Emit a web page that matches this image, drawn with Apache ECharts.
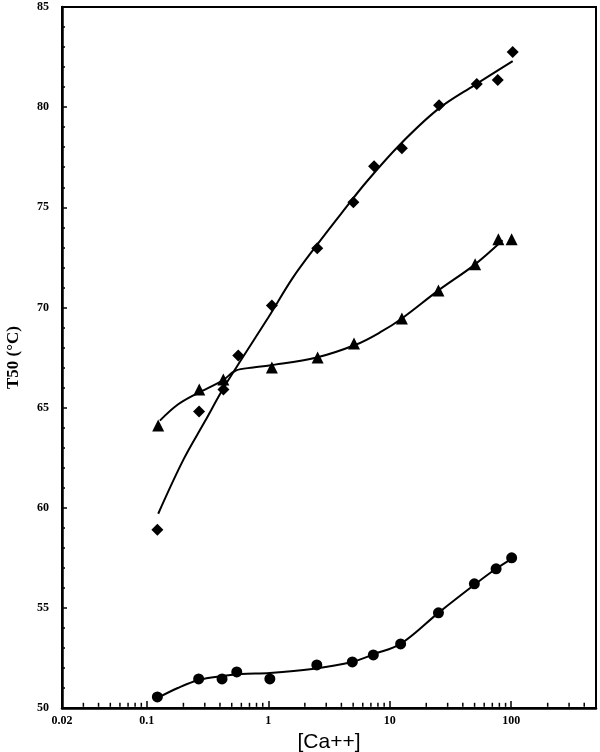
<!DOCTYPE html>
<html>
<head>
<meta charset="utf-8">
<script src="https://cdn.jsdelivr.net/npm/echarts@6/dist/echarts.min.js"></script>
<style>html,body{margin:0;padding:0;background:#fff}#c{width:600px;height:752px}</style>
</head>
<body>
<div id="c"></div>
<script>
// ---- data ----
const xTickLabels = ['0.02', '0.1', '1', '10', '100'];
const xMinorTicks = [0.03,0.04,0.05,0.06,0.07,0.08,0.09,
                     0.2,0.3,0.4,0.5,0.6,0.7,0.8,0.9,
                     2,3,4,5,6,7,8,9,
                     20,30,40,50,60,70,80,90,
                     200,300,400];

const diamondX = [0.122, 0.269, 0.427, 0.566, 1.07, 2.53, 5.02, 7.43, 12.6, 25.5, 52.1, 77.6, 103];
const diamondY = [58.9, 64.8, 65.9, 67.6, 70.1, 72.95, 75.25, 77.05, 77.95, 80.1, 81.15, 81.35, 82.75];

const triX = [0.124, 0.270, 0.426, 1.07, 2.55, 5.08, 12.6, 25.2, 50.5, 78.5, 101];
const triY = [64.1, 65.9, 66.4, 67.0, 67.5, 68.2, 69.45, 70.85, 72.15, 73.4, 73.4];

const circX = [0.122, 0.267, 0.416, 0.55, 1.03, 2.51, 4.92, 7.33, 12.3, 25.2, 49.8, 75.2, 101];
const circY = [50.55, 51.45, 51.45, 51.8, 51.45, 52.15, 52.3, 52.65, 53.2, 54.75, 56.2, 56.95, 57.5];

const diamondCurveX = [0.124, 0.2, 0.3, 0.43, 0.6, 1.0, 1.6, 2.5, 4.0, 6.5, 12, 25, 50, 103];
const diamondCurveY = [59.7, 62.4, 64.3, 66.0, 67.4, 69.5, 71.5, 73.1, 74.7, 76.3, 78.1, 79.9, 81.1, 82.3];

const triCurveX = [0.128, 0.18, 0.258, 0.42, 0.54, 0.75, 1.02, 2.5, 5.3, 8.3, 12.6, 25.2, 50.5, 85];
const triCurveY = [64.35, 65.15, 65.7, 66.35, 66.85, 67.0, 67.1, 67.5, 68.15, 68.75, 69.45, 70.85, 72.15, 73.35];

const circCurveX = [0.122, 0.18, 0.267, 0.42, 0.6, 1.03, 2.3, 4.92, 7.5, 12.3, 25.2, 49.8, 75, 101];
const circCurveY = [50.5, 51.0, 51.4, 51.6, 51.7, 51.75, 51.95, 52.3, 52.7, 53.2, 54.75, 56.15, 56.95, 57.45];

const zip = (xs, ys) => xs.map((x, i) => [x, ys[i]]);

const serif = 'Liberation Serif';
const chart = echarts.init(document.getElementById('c'));

function curve(xs, ys) {
  return {
    type: 'line', data: zip(xs, ys), smooth: 0.35,
    showSymbol: false, symbol: 'none', silent: true,
    lineStyle: { color: '#000', width: 2, opacity: 1 }, z: 2
  };
}
function points(xs, ys, symbol, size) {
  return {
    type: 'scatter', data: zip(xs, ys), symbol: symbol, symbolSize: size,
    itemStyle: { color: '#000', opacity: 1 }, z: 3, silent: true
  };
}

chart.setOption({
  backgroundColor: '#fff',
  animation: false,
  grid: {
    left: 62, right: 4, top: 7, bottom: 44,
    show: true, borderColor: '#000', borderWidth: 2,
    outerBoundsMode: 'none'
  },
  xAxis: {
    type: 'log', logBase: 10, min: 0.02, max: 500,
    name: '[Ca++]', nameLocation: 'middle', nameGap: 19,
    nameTextStyle: { fontFamily: 'Liberation Sans', fontSize: 21, color: '#000' },
    axisLine: { lineStyle: { color: '#000', width: 2.5 } },
    axisTick: { inside: true, length: 7, lineStyle: { color: '#000', width: 1.5 } },
    minorTick: { show: false },
    splitLine: { show: false },
    axisLabel: {
      color: '#000', fontFamily: serif, fontWeight: 'bold', fontSize: 12, margin: 7,
      showMinLabel: true, showMaxLabel: true,
      formatter: function (v) {
        for (const t of xTickLabels) {
          if (Math.abs(Math.log10(v) - Math.log10(parseFloat(t))) < 1e-6) return t;
        }
        return '';
      }
    }
  },
  yAxis: {
    type: 'value', min: 50, max: 85, interval: 5,
    name: 'T50 (°C)', nameLocation: 'middle', nameGap: 40,
    nameTextStyle: { fontFamily: serif, fontWeight: 'bold', fontSize: 17, color: '#000' },
    axisLine: { lineStyle: { color: '#000', width: 2.5 } },
    axisTick: { inside: true, length: 5, lineStyle: { color: '#000', width: 1.5 } },
    minorTick: { show: true, splitNumber: 5, length: 3, lineStyle: { color: '#000', width: 1.5 } },
    splitLine: { show: false },
    axisLabel: { color: '#000', fontFamily: serif, fontWeight: 'bold', fontSize: 12, margin: 13 }
  },
  series: [
    {
      type: 'scatter', data: xMinorTicks.map(v => [v, 50]), symbol: 'rect',
      symbolSize: [1.5, 4], symbolOffset: [0, -3.2], silent: true, clip: false,
      itemStyle: { color: '#000', opacity: 1 }, z: 1
    },
    curve(diamondCurveX, diamondCurveY),
    curve(triCurveX, triCurveY),
    curve(circCurveX, circCurveY),
    points(diamondX, diamondY, 'diamond', 12),
    points(triX, triY, 'triangle', 12),
    points(circX, circY, 'circle', 11)
  ]
});
</script>
</body>
</html>
